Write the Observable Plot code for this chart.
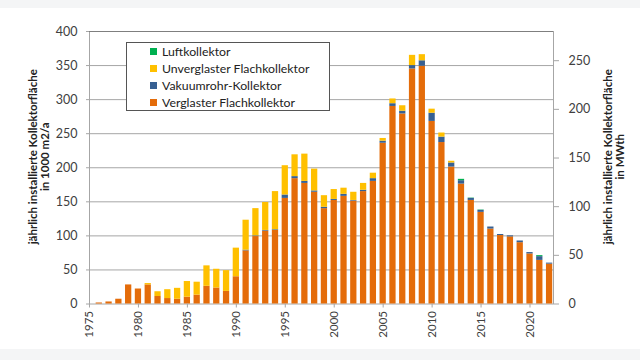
<!DOCTYPE html>
<html><head><meta charset="utf-8">
<script src="https://cdn.jsdelivr.net/npm/d3@7"></script>
<script src="https://cdn.jsdelivr.net/npm/@observablehq/plot@0.6"></script>
<style>
body{margin:0;background:#f4f5f6;font-family:Lato,sans-serif;}
#wrap{position:absolute;left:0;top:8px;width:640px;height:341px;background:#fff;}
#legend{position:absolute;left:126px;top:34px;width:204px;height:69px;border:1px solid #555;background:#fff;box-sizing:border-box;font-size:12.3px;color:#222;padding-top:0px;}
.item{height:17px;line-height:17px;position:relative;padding-left:35px;white-space:nowrap;}
.sw{position:absolute;left:23px;top:5px;width:7px;height:7px;}
</style></head>
<body>
<div id="wrap"><div id="chart"></div><div id="legend"></div></div>
<script>
const years = [1976,1977,1978,1979,1980,1981,1982,1983,1984,1985,1986,1987,1988,1989,1990,1991,1992,1993,1994,1995,1996,1997,1998,1999,2000,2001,2002,2003,2004,2005,2006,2007,2008,2009,2010,2011,2012,2013,2014,2015,2016,2017,2018,2019,2020,2021,2022];
const verglast = [1.5,3,7,28,22,28,11,8,7,10,13,26,23.5,18.5,40,78,99,107,108,155,184,177,164,140,152,158,151,165,180,236,290,279,345,349,268,237,201,176,152,134.5,110,100.5,98.5,90,73.5,64,58.5];
const vakuum = [0,0,0,0,0,0,0,0,0,0,0,0,0,0,0,1,1,1,1,5,3,3,2,2,1.5,3,1,2,4,3,4,4,5,8,12,8,6,5,3,3,3,1.5,1.5,2.5,2,5.5,1.5];
const unverglast = [0,0,0,0,0,2,7,13,16,23,19,30,27.5,30.5,42,44,40,41,56,43,32,40,32,17,14.5,9,12,10,8,4,7,8,15,9,6,6,2.5,0,0,0,0,0,0,0,0,0,0];
const luft = [0,0,0,0,0,0,0,0,0,0,0,0,0,0,0,0,0,0,0,0,0,0,0,0,0,0,0,0,0,0,0,0,0,0,0,0,0,2,0.5,0.5,0,0,0,0,0,1.5,0];
const typeNames = ["Verglaster Flachkollektor","Vakuumrohr-Kollektor","Unverglaster Flachkollektor","Luftkollektor"];
const colors = ["#e46c0a","#376092","#ffc000","#00b050"];
const legendOrder = ["Luftkollektor","Unverglaster Flachkollektor","Vakuumrohr-Kollektor","Verglaster Flachkollektor"];
const leftTicks = [0,50,100,150,200,250,300,350,400];
const rightTicks = [0,50,100,150,200,250];
const xTicks = [1975,1980,1985,1990,1995,2000,2005,2010,2015,2020];
const mwFactor = 0.7;
const leftTitle = "jährlich installierte Kollektorfläche\nin 1000 m2/a";
const rightTitle = "jährlich installierte Kollektorfläche\nin MWth";

const series = [verglast, vakuum, unverglast, luft];
const data = [];
years.forEach((y, i) => series.forEach((s, k) => data.push({year: y, type: typeNames[k], value: s[i]})));

const half = 0.32;
const plot = Plot.plot({
  width: 640, height: 341,
  marginLeft: 89, marginRight: 87, marginTop: 23, marginBottom: 45.5,
  x: {domain: [1975, 2022.4]},
  y: {domain: [0, 400]},
  color: {domain: typeNames, range: colors},
  style: {fontFamily: "Lato, sans-serif", fontSize: "12px", color: "#404040", background: "transparent"},
  marks: [
    Plot.ruleY(leftTicks.slice(1, -1), {stroke: "#a6a6a6"}),
    Plot.frame({stroke: "#a6a6a6"}),
    Plot.ruleY([400], {stroke: "#7f7f7f"}),
    Plot.rectY(data, Plot.stackY({x1: d => d.year - half, x2: d => d.year + half, y: "value", fill: "type"})),
    Plot.axisY({ticks: leftTicks, tickSize: 3, tickPadding: 9, label: null, stroke: "#a6a6a6", fontSize: 12.5}),
    Plot.axisY({anchor: "right", ticks: rightTicks.map(v => v / mwFactor), tickFormat: d => String(Math.round(d * mwFactor)), tickSize: 5, tickPadding: 10, label: null, stroke: "#a6a6a6", fontSize: 12.5}),
    Plot.axisX({ticks: xTicks, tickFormat: d => String(d), tickRotate: -90, tickSize: 4, tickPadding: 3, label: null, stroke: "#a6a6a6", fontSize: 11.5}),
    Plot.text([leftTitle], {frameAnchor: "left", textAnchor: "middle", lineAnchor: "middle", rotate: -90, dx: -50, dy: -11, fontWeight: "bold", fontSize: 11.5, fill: "#222", lineHeight: 1.05}),
    Plot.text([rightTitle], {frameAnchor: "right", textAnchor: "middle", lineAnchor: "middle", rotate: -90, dx: 61, dy: -11, fontWeight: "bold", fontSize: 11.5, fill: "#222", lineHeight: 1.05})
  ]
});
document.getElementById("chart").appendChild(plot);

const leg = document.getElementById("legend");
legendOrder.forEach(n => {
  const it = document.createElement("div");
  it.className = "item";
  const sw = document.createElement("span");
  sw.className = "sw";
  sw.style.background = colors[typeNames.indexOf(n)];
  it.appendChild(sw);
  it.appendChild(document.createTextNode(n));
  leg.appendChild(it);
});
</script>
</body></html>
